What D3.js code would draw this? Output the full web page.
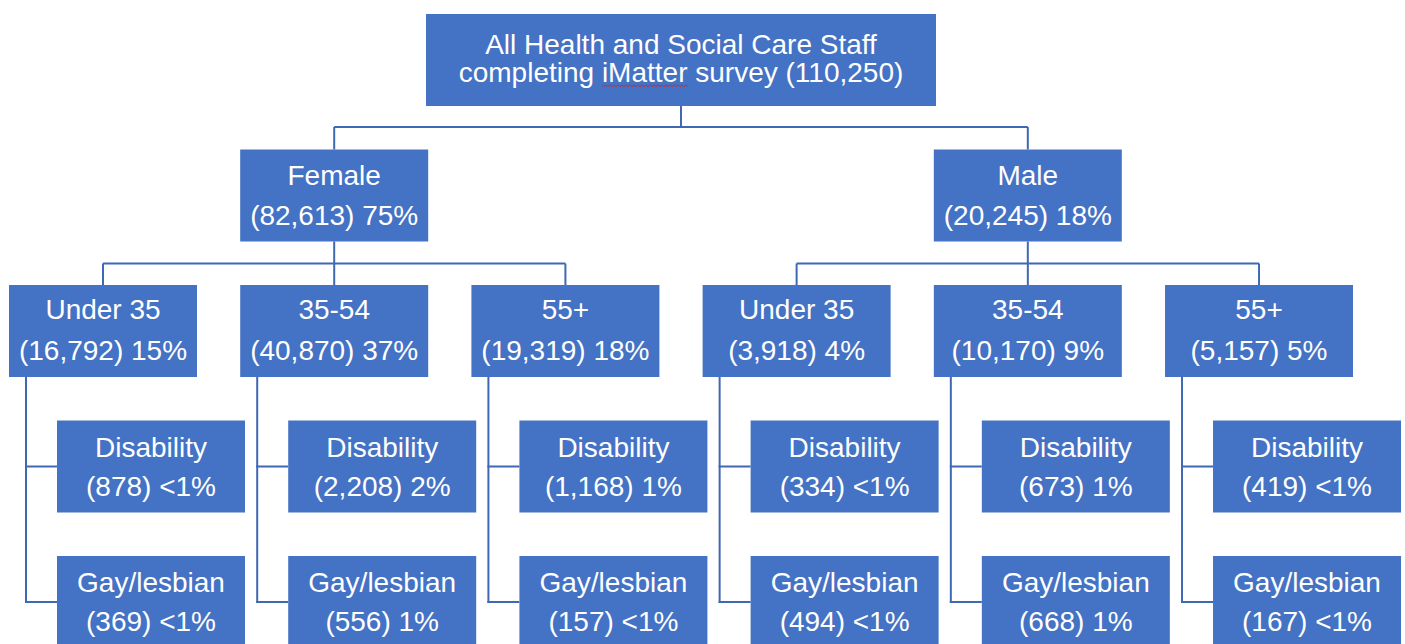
<!DOCTYPE html>
<html>
<head>
<meta charset="utf-8">
<script src="https://cdn.jsdelivr.net/npm/d3@7/dist/d3.min.js"></script>
<style>
  body { margin: 0; padding: 0; background: #fff; }
  svg { display: block; }
  text { font-family: "Liberation Sans", Arial, sans-serif; font-size: 28px; fill: #fff; text-anchor: middle; }
</style>
</head>
<body>
<svg id="chart" width="1405" height="644"></svg>
<script>
// data
var rootLines = ["All Health and Social Care Staff", "completing iMatter survey"];
var totalStaff = 110250;
var genders = ["Female", "Male"];
var genderCounts = [82613, 20245];
var genderPct = ["75%", "18%"];
var ageGroups = ["Under 35", "35-54", "55+"];
var ageCounts = [[16792, 40870, 19319], [3918, 10170, 5157]];
var agePct = [["15%", "37%", "18%"], ["4%", "9%", "5%"]];
var leafNames = ["Disability", "Gay/lesbian"];
var disabilityCounts = [[878, 2208, 1168], [334, 673, 419]];
var disabilityPct = [["<1%", "2%", "1%"], ["<1%", "1%", "<1%"]];
var gayCounts = [[369, 556, 157], [494, 668, 167]];
var gayPct = [["<1%", "1%", "<1%"], ["<1%", "1%", "<1%"]];

var fmt = d3.format(",");
var boxFill = "#4472C4", lineCol = "#3F68B4";
var boxW = 188, boxH = 92;

var svg = d3.select("#chart");

// one column per gender/age pair
var cols = [];
genders.forEach(function(g, gi) {
  ageGroups.forEach(function(a, ai) { cols.push(gi + "-" + ai); });
});
var x = d3.scaleBand().domain(cols).range([9, 1353]).paddingInner(0.187).paddingOuter(0);
var y = d3.scalePoint().domain(["root", "gender", "age", "leaf0", "leaf1"]).range([14, 556]);

var lines = svg.append("g").attr("stroke", lineCol).attr("stroke-width", 2).attr("fill", "none");
var boxes = svg.append("g");

function box(left, top, w, l1, l2, off1, off2) {
  var g = boxes.append("g");
  g.append("rect").attr("x", left).attr("y", top).attr("width", w).attr("height", boxH)
    .attr("fill", boxFill);
  var cx = left + w / 2, cy = top + boxH / 2;
  g.append("text").attr("x", cx).attr("y", cy + off1).text(l1);
  g.append("text").attr("x", cx).attr("y", cy + off2).text(l2);
}

function hv(x1, y1, x2, y2) {
  lines.append("line").attr("x1", x1).attr("y1", y1).attr("x2", x2).attr("y2", y2);
}

var genderCx = genders.map(function(g, gi) { return x(gi + "-1") + x.bandwidth() / 2; });
var rootCx = (genderCx[0] + genderCx[1]) / 2;
var rootW = 510;

// root
box(rootCx - rootW / 2, y("root"), rootW, rootLines[0],
    rootLines[1] + " (" + fmt(totalStaff) + ")", -6, 22);
// spell-check squiggle under iMatter
var sq = d3.path(), sx = 602, sy = 85;
sq.moveTo(sx, sy);
for (var i = 0; sx + 2 * (i + 1) <= 689; i++) sq.lineTo(sx + 2 * (i + 1), sy + (i % 2 ? 0 : 1.6));
svg.append("path").attr("d", sq.toString()).attr("stroke", "#E02020").attr("stroke-width", 0.9).attr("fill", "none");

var busRoot = y("root") + boxH + 21;
hv(rootCx, y("root") + boxH, rootCx, busRoot);
hv(genderCx[0], busRoot, genderCx[1], busRoot);

genders.forEach(function(g, gi) {
  var cx = genderCx[gi];
  hv(cx, busRoot, cx, y("gender"));
  box(cx - boxW / 2, y("gender"), boxW, g, "(" + fmt(genderCounts[gi]) + ") " + genderPct[gi], -11, 29);

  var bus = y("gender") + boxH + 22;
  var c0 = x(gi + "-0") + boxW / 2, c2 = x(gi + "-2") + boxW / 2;
  hv(cx, y("gender") + boxH, cx, bus);
  hv(c0, bus, c2, bus);

  ageGroups.forEach(function(a, ai) {
    var left = x(gi + "-" + ai), acx = left + boxW / 2;
    hv(acx, bus, acx, y("age"));
    box(left, y("age"), boxW, a, "(" + fmt(ageCounts[gi][ai]) + ") " + agePct[gi][ai], -12, 29);

    var stemX = left + 17, leafLeft = left + 48;
    var yd = y("leaf0") + boxH / 2, yg = y("leaf1") + boxH / 2;
    hv(stemX, y("age") + boxH, stemX, yg + 1);
    hv(stemX - 1, yd, leafLeft, yd);
    hv(stemX - 1, yg, leafLeft, yg);
    box(leafLeft, y("leaf0"), boxW, leafNames[0],
        "(" + fmt(disabilityCounts[gi][ai]) + ") " + disabilityPct[gi][ai], -10, 29);
    box(leafLeft, y("leaf1"), boxW, leafNames[1],
        "(" + fmt(gayCounts[gi][ai]) + ") " + gayPct[gi][ai], -10, 29);
  });
});
</script>
</body>
</html>
